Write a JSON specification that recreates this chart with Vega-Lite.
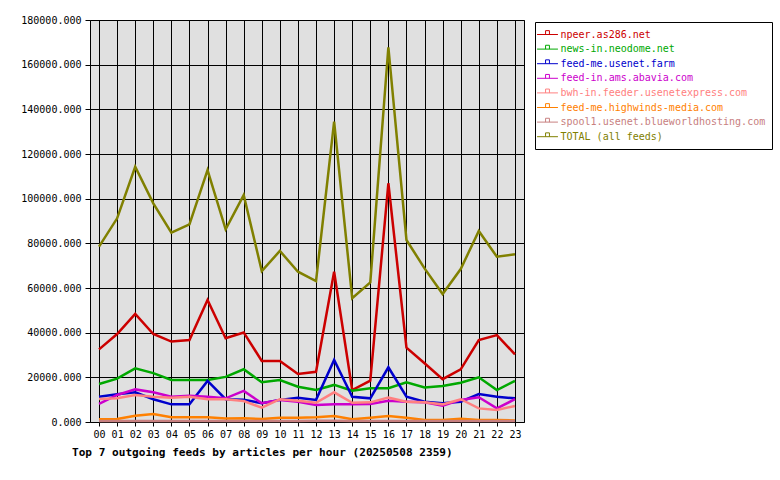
{
  "$schema": "https://vega.github.io/schema/vega-lite/v6.json",
  "autosize": "none",
  "width": 434,
  "height": 402,
  "padding": {"left": 90, "top": 20, "right": 256, "bottom": 58},
  "background": "white",
  "title": {
    "text": "Top 7 outgoing feeds by articles per hour (20250508 2359)",
    "orient": "bottom",
    "anchor": "start",
    "frame": "group",
    "dx": -18,
    "offset": 8,
    "font": "DejaVu Sans Mono",
    "fontSize": 11.1,
    "fontWeight": "bold",
    "color": "black"
  },
  "config": {
    "view": {"fill": "#E0E0E0", "stroke": "black", "strokeWidth": 1},
    "axis": {
      "title": null,
      "grid": true,
      "gridColor": "black",
      "gridOpacity": 1,
      "gridWidth": 1,
      "domainColor": "black",
      "tickColor": "black",
      "labelColor": "black",
      "labelFont": "DejaVu Sans Mono",
      "labelFontSize": 10
    },
    "legend": {
      "orient": "none",
      "legendX": 445,
      "legendY": 2,
      "strokeColor": "black",
      "fillColor": "white",
      "padding": 6.5,
      "title": null,
      "symbolType": "M-1.9,0H1.9M-0.35,0V-0.7H0.35V0",
      "symbolSize": 121,
      "symbolStrokeWidth": 1,
      "labelFont": "DejaVu Sans Mono",
      "labelFontSize": 10,
      "labelLimit": 400,
      "labelOffset": 7,
      "rowPadding": 3.6
    }
  },
  "data": {
    "values": [
      {"h": "00", "f": "npeer.as286.net", "v": 32500},
      {"h": "01", "f": "npeer.as286.net", "v": 39400},
      {"h": "02", "f": "npeer.as286.net", "v": 48400},
      {"h": "03", "f": "npeer.as286.net", "v": 39400},
      {"h": "04", "f": "npeer.as286.net", "v": 36000},
      {"h": "05", "f": "npeer.as286.net", "v": 36700},
      {"h": "06", "f": "npeer.as286.net", "v": 54600},
      {"h": "07", "f": "npeer.as286.net", "v": 37500},
      {"h": "08", "f": "npeer.as286.net", "v": 40100},
      {"h": "09", "f": "npeer.as286.net", "v": 27300},
      {"h": "10", "f": "npeer.as286.net", "v": 27300},
      {"h": "11", "f": "npeer.as286.net", "v": 21500},
      {"h": "12", "f": "npeer.as286.net", "v": 22500},
      {"h": "13", "f": "npeer.as286.net", "v": 67300},
      {"h": "14", "f": "npeer.as286.net", "v": 14300},
      {"h": "15", "f": "npeer.as286.net", "v": 18500},
      {"h": "16", "f": "npeer.as286.net", "v": 106900},
      {"h": "17", "f": "npeer.as286.net", "v": 33300},
      {"h": "18", "f": "npeer.as286.net", "v": 26300},
      {"h": "19", "f": "npeer.as286.net", "v": 19200},
      {"h": "20", "f": "npeer.as286.net", "v": 23600},
      {"h": "21", "f": "npeer.as286.net", "v": 36700},
      {"h": "22", "f": "npeer.as286.net", "v": 38900},
      {"h": "23", "f": "npeer.as286.net", "v": 30300},

      {"h": "00", "f": "news-in.neodome.net", "v": 17000},
      {"h": "01", "f": "news-in.neodome.net", "v": 19400},
      {"h": "02", "f": "news-in.neodome.net", "v": 24000},
      {"h": "03", "f": "news-in.neodome.net", "v": 21900},
      {"h": "04", "f": "news-in.neodome.net", "v": 18800},
      {"h": "05", "f": "news-in.neodome.net", "v": 18800},
      {"h": "06", "f": "news-in.neodome.net", "v": 18800},
      {"h": "07", "f": "news-in.neodome.net", "v": 20200},
      {"h": "08", "f": "news-in.neodome.net", "v": 23600},
      {"h": "09", "f": "news-in.neodome.net", "v": 17800},
      {"h": "10", "f": "news-in.neodome.net", "v": 18800},
      {"h": "11", "f": "news-in.neodome.net", "v": 15800},
      {"h": "12", "f": "news-in.neodome.net", "v": 14300},
      {"h": "13", "f": "news-in.neodome.net", "v": 16600},
      {"h": "14", "f": "news-in.neodome.net", "v": 14000},
      {"h": "15", "f": "news-in.neodome.net", "v": 15100},
      {"h": "16", "f": "news-in.neodome.net", "v": 15100},
      {"h": "17", "f": "news-in.neodome.net", "v": 17800},
      {"h": "18", "f": "news-in.neodome.net", "v": 15500},
      {"h": "19", "f": "news-in.neodome.net", "v": 16100},
      {"h": "20", "f": "news-in.neodome.net", "v": 17600},
      {"h": "21", "f": "news-in.neodome.net", "v": 20000},
      {"h": "22", "f": "news-in.neodome.net", "v": 14300},
      {"h": "23", "f": "news-in.neodome.net", "v": 18400},

      {"h": "00", "f": "feed-me.usenet.farm", "v": 11300},
      {"h": "01", "f": "feed-me.usenet.farm", "v": 12400},
      {"h": "02", "f": "feed-me.usenet.farm", "v": 13300},
      {"h": "03", "f": "feed-me.usenet.farm", "v": 10200},
      {"h": "04", "f": "feed-me.usenet.farm", "v": 7900},
      {"h": "05", "f": "feed-me.usenet.farm", "v": 7900},
      {"h": "06", "f": "feed-me.usenet.farm", "v": 18400},
      {"h": "07", "f": "feed-me.usenet.farm", "v": 10200},
      {"h": "08", "f": "feed-me.usenet.farm", "v": 10000},
      {"h": "09", "f": "feed-me.usenet.farm", "v": 8400},
      {"h": "10", "f": "feed-me.usenet.farm", "v": 9900},
      {"h": "11", "f": "feed-me.usenet.farm", "v": 10900},
      {"h": "12", "f": "feed-me.usenet.farm", "v": 9900},
      {"h": "13", "f": "feed-me.usenet.farm", "v": 27800},
      {"h": "14", "f": "feed-me.usenet.farm", "v": 11300},
      {"h": "15", "f": "feed-me.usenet.farm", "v": 10600},
      {"h": "16", "f": "feed-me.usenet.farm", "v": 24500},
      {"h": "17", "f": "feed-me.usenet.farm", "v": 11300},
      {"h": "18", "f": "feed-me.usenet.farm", "v": 9100},
      {"h": "19", "f": "feed-me.usenet.farm", "v": 8400},
      {"h": "20", "f": "feed-me.usenet.farm", "v": 9100},
      {"h": "21", "f": "feed-me.usenet.farm", "v": 12500},
      {"h": "22", "f": "feed-me.usenet.farm", "v": 11300},
      {"h": "23", "f": "feed-me.usenet.farm", "v": 10600},

      {"h": "00", "f": "feed-in.ams.abavia.com", "v": 8100},
      {"h": "01", "f": "feed-in.ams.abavia.com", "v": 12100},
      {"h": "02", "f": "feed-in.ams.abavia.com", "v": 14600},
      {"h": "03", "f": "feed-in.ams.abavia.com", "v": 13300},
      {"h": "04", "f": "feed-in.ams.abavia.com", "v": 11300},
      {"h": "05", "f": "feed-in.ams.abavia.com", "v": 11800},
      {"h": "06", "f": "feed-in.ams.abavia.com", "v": 11300},
      {"h": "07", "f": "feed-in.ams.abavia.com", "v": 10600},
      {"h": "08", "f": "feed-in.ams.abavia.com", "v": 13900},
      {"h": "09", "f": "feed-in.ams.abavia.com", "v": 8400},
      {"h": "10", "f": "feed-in.ams.abavia.com", "v": 9900},
      {"h": "11", "f": "feed-in.ams.abavia.com", "v": 9100},
      {"h": "12", "f": "feed-in.ams.abavia.com", "v": 7600},
      {"h": "13", "f": "feed-in.ams.abavia.com", "v": 7900},
      {"h": "14", "f": "feed-in.ams.abavia.com", "v": 7900},
      {"h": "15", "f": "feed-in.ams.abavia.com", "v": 8100},
      {"h": "16", "f": "feed-in.ams.abavia.com", "v": 9500},
      {"h": "17", "f": "feed-in.ams.abavia.com", "v": 9100},
      {"h": "18", "f": "feed-in.ams.abavia.com", "v": 8800},
      {"h": "19", "f": "feed-in.ams.abavia.com", "v": 7300},
      {"h": "20", "f": "feed-in.ams.abavia.com", "v": 9900},
      {"h": "21", "f": "feed-in.ams.abavia.com", "v": 11100},
      {"h": "22", "f": "feed-in.ams.abavia.com", "v": 6100},
      {"h": "23", "f": "feed-in.ams.abavia.com", "v": 10200},

      {"h": "00", "f": "bwh-in.feeder.usenetexpress.com", "v": 10300},
      {"h": "01", "f": "bwh-in.feeder.usenetexpress.com", "v": 10600},
      {"h": "02", "f": "bwh-in.feeder.usenetexpress.com", "v": 12100},
      {"h": "03", "f": "bwh-in.feeder.usenetexpress.com", "v": 11300},
      {"h": "04", "f": "bwh-in.feeder.usenetexpress.com", "v": 10900},
      {"h": "05", "f": "bwh-in.feeder.usenetexpress.com", "v": 11300},
      {"h": "06", "f": "bwh-in.feeder.usenetexpress.com", "v": 10200},
      {"h": "07", "f": "bwh-in.feeder.usenetexpress.com", "v": 10200},
      {"h": "08", "f": "bwh-in.feeder.usenetexpress.com", "v": 9400},
      {"h": "09", "f": "bwh-in.feeder.usenetexpress.com", "v": 6400},
      {"h": "10", "f": "bwh-in.feeder.usenetexpress.com", "v": 10200},
      {"h": "11", "f": "bwh-in.feeder.usenetexpress.com", "v": 9500},
      {"h": "12", "f": "bwh-in.feeder.usenetexpress.com", "v": 8600},
      {"h": "13", "f": "bwh-in.feeder.usenetexpress.com", "v": 13300},
      {"h": "14", "f": "bwh-in.feeder.usenetexpress.com", "v": 8600},
      {"h": "15", "f": "bwh-in.feeder.usenetexpress.com", "v": 8800},
      {"h": "16", "f": "bwh-in.feeder.usenetexpress.com", "v": 10900},
      {"h": "17", "f": "bwh-in.feeder.usenetexpress.com", "v": 9100},
      {"h": "18", "f": "bwh-in.feeder.usenetexpress.com", "v": 8800},
      {"h": "19", "f": "bwh-in.feeder.usenetexpress.com", "v": 7900},
      {"h": "20", "f": "bwh-in.feeder.usenetexpress.com", "v": 10200},
      {"h": "21", "f": "bwh-in.feeder.usenetexpress.com", "v": 6100},
      {"h": "22", "f": "bwh-in.feeder.usenetexpress.com", "v": 5400},
      {"h": "23", "f": "bwh-in.feeder.usenetexpress.com", "v": 7200},

      {"h": "00", "f": "feed-me.highwinds-media.com", "v": 1200},
      {"h": "01", "f": "feed-me.highwinds-media.com", "v": 1300},
      {"h": "02", "f": "feed-me.highwinds-media.com", "v": 2800},
      {"h": "03", "f": "feed-me.highwinds-media.com", "v": 3600},
      {"h": "04", "f": "feed-me.highwinds-media.com", "v": 2100},
      {"h": "05", "f": "feed-me.highwinds-media.com", "v": 2100},
      {"h": "06", "f": "feed-me.highwinds-media.com", "v": 2100},
      {"h": "07", "f": "feed-me.highwinds-media.com", "v": 1600},
      {"h": "08", "f": "feed-me.highwinds-media.com", "v": 1700},
      {"h": "09", "f": "feed-me.highwinds-media.com", "v": 1300},
      {"h": "10", "f": "feed-me.highwinds-media.com", "v": 1900},
      {"h": "11", "f": "feed-me.highwinds-media.com", "v": 1900},
      {"h": "12", "f": "feed-me.highwinds-media.com", "v": 2100},
      {"h": "13", "f": "feed-me.highwinds-media.com", "v": 2700},
      {"h": "14", "f": "feed-me.highwinds-media.com", "v": 1200},
      {"h": "15", "f": "feed-me.highwinds-media.com", "v": 1900},
      {"h": "16", "f": "feed-me.highwinds-media.com", "v": 2700},
      {"h": "17", "f": "feed-me.highwinds-media.com", "v": 1900},
      {"h": "18", "f": "feed-me.highwinds-media.com", "v": 900},
      {"h": "19", "f": "feed-me.highwinds-media.com", "v": 900},
      {"h": "20", "f": "feed-me.highwinds-media.com", "v": 1500},
      {"h": "21", "f": "feed-me.highwinds-media.com", "v": 900},
      {"h": "22", "f": "feed-me.highwinds-media.com", "v": 900},
      {"h": "23", "f": "feed-me.highwinds-media.com", "v": 700},

      {"h": "00", "f": "spool1.usenet.blueworldhosting.com", "v": 500},
      {"h": "01", "f": "spool1.usenet.blueworldhosting.com", "v": 500},
      {"h": "02", "f": "spool1.usenet.blueworldhosting.com", "v": 450},
      {"h": "03", "f": "spool1.usenet.blueworldhosting.com", "v": 500},
      {"h": "04", "f": "spool1.usenet.blueworldhosting.com", "v": 500},
      {"h": "05", "f": "spool1.usenet.blueworldhosting.com", "v": 450},
      {"h": "06", "f": "spool1.usenet.blueworldhosting.com", "v": 500},
      {"h": "07", "f": "spool1.usenet.blueworldhosting.com", "v": 500},
      {"h": "08", "f": "spool1.usenet.blueworldhosting.com", "v": 450},
      {"h": "09", "f": "spool1.usenet.blueworldhosting.com", "v": 500},
      {"h": "10", "f": "spool1.usenet.blueworldhosting.com", "v": 500},
      {"h": "11", "f": "spool1.usenet.blueworldhosting.com", "v": 500},
      {"h": "12", "f": "spool1.usenet.blueworldhosting.com", "v": 600},
      {"h": "13", "f": "spool1.usenet.blueworldhosting.com", "v": 600},
      {"h": "14", "f": "spool1.usenet.blueworldhosting.com", "v": 500},
      {"h": "15", "f": "spool1.usenet.blueworldhosting.com", "v": 450},
      {"h": "16", "f": "spool1.usenet.blueworldhosting.com", "v": 500},
      {"h": "17", "f": "spool1.usenet.blueworldhosting.com", "v": 500},
      {"h": "18", "f": "spool1.usenet.blueworldhosting.com", "v": 450},
      {"h": "19", "f": "spool1.usenet.blueworldhosting.com", "v": 500},
      {"h": "20", "f": "spool1.usenet.blueworldhosting.com", "v": 500},
      {"h": "21", "f": "spool1.usenet.blueworldhosting.com", "v": 450},
      {"h": "22", "f": "spool1.usenet.blueworldhosting.com", "v": 500},
      {"h": "23", "f": "spool1.usenet.blueworldhosting.com", "v": 450},

      {"h": "00", "f": "TOTAL (all feeds)", "v": 78500},
      {"h": "01", "f": "TOTAL (all feeds)", "v": 91200},
      {"h": "02", "f": "TOTAL (all feeds)", "v": 114300},
      {"h": "03", "f": "TOTAL (all feeds)", "v": 97900},
      {"h": "04", "f": "TOTAL (all feeds)", "v": 84800},
      {"h": "05", "f": "TOTAL (all feeds)", "v": 88500},
      {"h": "06", "f": "TOTAL (all feeds)", "v": 112800},
      {"h": "07", "f": "TOTAL (all feeds)", "v": 86300},
      {"h": "08", "f": "TOTAL (all feeds)", "v": 101600},
      {"h": "09", "f": "TOTAL (all feeds)", "v": 67600},
      {"h": "10", "f": "TOTAL (all feeds)", "v": 76600},
      {"h": "11", "f": "TOTAL (all feeds)", "v": 67300},
      {"h": "12", "f": "TOTAL (all feeds)", "v": 63100},
      {"h": "13", "f": "TOTAL (all feeds)", "v": 134500},
      {"h": "14", "f": "TOTAL (all feeds)", "v": 55400},
      {"h": "15", "f": "TOTAL (all feeds)", "v": 62500},
      {"h": "16", "f": "TOTAL (all feeds)", "v": 167800},
      {"h": "17", "f": "TOTAL (all feeds)", "v": 81500},
      {"h": "18", "f": "TOTAL (all feeds)", "v": 68800},
      {"h": "19", "f": "TOTAL (all feeds)", "v": 57300},
      {"h": "20", "f": "TOTAL (all feeds)", "v": 68500},
      {"h": "21", "f": "TOTAL (all feeds)", "v": 85500},
      {"h": "22", "f": "TOTAL (all feeds)", "v": 74000},
      {"h": "23", "f": "TOTAL (all feeds)", "v": 75100}
    ]
  },
  "mark": {"type": "line", "strokeWidth": 2.5, "strokeJoin": "miter"},
  "encoding": {
    "x": {
      "field": "h",
      "type": "ordinal",
      "scale": {"type": "point", "padding": 0.5},
      "axis": {"labelAngle": 0, "tickSize": 4, "labelPadding": 3, "domain": false}
    },
    "y": {
      "field": "v",
      "type": "quantitative",
      "scale": {"domain": [0, 180000], "nice": false},
      "axis": {
        "values": [0, 20000, 40000, 60000, 80000, 100000, 120000, 140000, 160000, 180000],
        "format": ".3f",
        "tickSize": 5,
        "labelPadding": 4,
        "domain": false
      }
    },
    "color": {
      "field": "f",
      "type": "nominal",
      "scale": {
        "domain": [
          "npeer.as286.net",
          "news-in.neodome.net",
          "feed-me.usenet.farm",
          "feed-in.ams.abavia.com",
          "bwh-in.feeder.usenetexpress.com",
          "feed-me.highwinds-media.com",
          "spool1.usenet.blueworldhosting.com",
          "TOTAL (all feeds)"
        ],
        "range": ["#CC0000", "#00A800", "#0000CC", "#CC00CC", "#FF8080", "#FF8000", "#C88080", "#808000"]
      },
      "legend": {
        "encode": {
          "labels": {"update": {"fill": {"scale": "color", "field": "value"}}}
        }
      }
    }
  }
}
